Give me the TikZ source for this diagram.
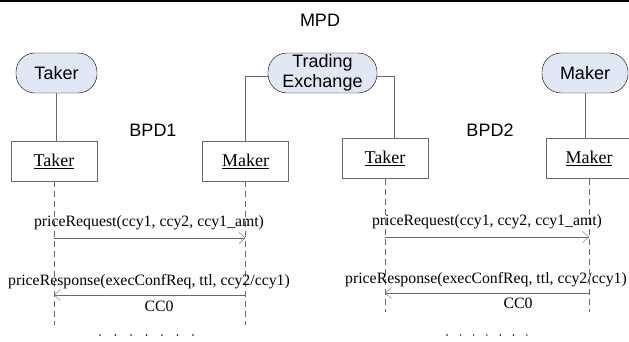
\documentclass[tikz,border=0pt]{standalone}
\usepackage{fontspec}
\setmainfont{Liberation Serif}
\setsansfont{Liberation Sans}
\usetikzlibrary{arrows.meta}
\definecolor{rolefill}{RGB}{225,232,245}
\definecolor{linegray}{RGB}{105,105,105}

\begin{document}
\begin{tikzpicture}[x=1pt,y=-1pt,
    role/.style={draw, fill=rolefill, rounded corners=19pt, minimum height=40pt, inner sep=0pt,
      align=center, font=\fontsize{18}{19.5}\sffamily},
    objbox/.style={draw=linegray, minimum width=86pt, minimum height=40pt, inner sep=0pt,
      font=\fontsize{18}{20}\selectfont},
    lifeline/.style={draw=linegray, dash pattern=on 6pt off 4pt},
    link/.style={draw=linegray, thick},
    msg/.style={draw=linegray, -{Straight Barb[length=6pt,width=11pt]}},
    msglabel/.style={font=\fontsize{15.8}{17}\selectfont, inner sep=0pt},
    title/.style={font=\fontsize{18}{20}\sffamily}]
    \useasboundingbox (0,0) rectangle (629,342);
    \clip (0,0) rectangle (629,342);

    % top rule and titles
    \draw[line width=2.6pt] (0,1.2) -- (629,1.2);
    \node[title] (mpd) at (320,20) {MPD};
    \node[title] (bpd1) at (153,130) {BPD1};
    \node[title] (bpd2) at (490,130) {BPD2};

    % roles
    \node[role, minimum width=81pt] (taker1) at (56.5,73) {Taker};
    \node[role, minimum width=109pt] (exch) at (322.5,73) {Trading\\Exchange};
    \node[role, minimum width=86pt] (maker2) at (585,73) {Maker};

    % objects
    \node[objbox] (tk1) at (54,161) {\underline{Taker}};
    \node[objbox] (mk1) at (245.5,161) {\underline{Maker}};
    \node[objbox] (tk2) at (385,158.5) {\underline{Taker}};
    \node[objbox] (mk2) at (589,158.5) {\underline{Maker}};

    % role links
    \draw[link] (taker1.south) -- (taker1.south |- tk1.north);
    \draw[link] ([yshift=-3pt]exch.west) -| (mk1.north);
    \draw[link] ([yshift=-3pt]exch.east) -| ([xshift=9pt]tk2.north);
    \draw[link] (maker2.south) -- (maker2.south |- mk2.north);

    % lifelines
    \coordinate (tk1end) at (tk1.south |- 0,325);
    \coordinate (mk1end) at (mk1.south |- 0,325);
    \coordinate (tk2end) at (tk2.south |- 0,312);
    \coordinate (mk2end) at (mk2.south |- 0,312);
    \draw[lifeline] (tk1.south) -- (tk1end);
    \draw[lifeline] (mk1.south) -- (mk1end);
    \draw[lifeline] (tk2.south) -- (tk2end);
    \draw[lifeline] (mk2.south) -- (mk2end);

    % messages BPD1
    \node[msglabel] (req1) at (149,223) {priceRequest(ccy1, ccy2, ccy1\_amt)};
    \draw[msg] (tk1.south |- 0,238) -- (mk1.south |- 0,238);
    \node[msglabel] (resp1) at (149,282) {priceResponse(execConfReq, ttl, ccy2/ccy1)};
    \draw[msg] (mk1.south |- 0,295) -- (tk1.south |- 0,295);
    \node[msglabel] (cc1) at (159,306) {CC0};

    % messages BPD2
    \node[msglabel] (req2) at (487,222) {priceRequest(ccy1, ccy2, ccy1\_amt)};
    \draw[msg] (tk2.south |- 0,237) -- (mk2.south |- 0,237);
    \node[msglabel] (resp2) at (486,280) {priceResponse(execConfReq, ttl, ccy2/ccy1)};
    \draw[msg] (mk2.south |- 0,293) -- (tk2.south |- 0,293);
    \node[msglabel] (cc2) at (518,303) {CC0};

    % continuation dots
    \foreach \i in {0,...,6} {
      \fill (100+15.5*\i,335) circle (0.8);
      \fill (447+13.3*\i,335) circle (0.8);
    }
\end{tikzpicture}
\end{document}
